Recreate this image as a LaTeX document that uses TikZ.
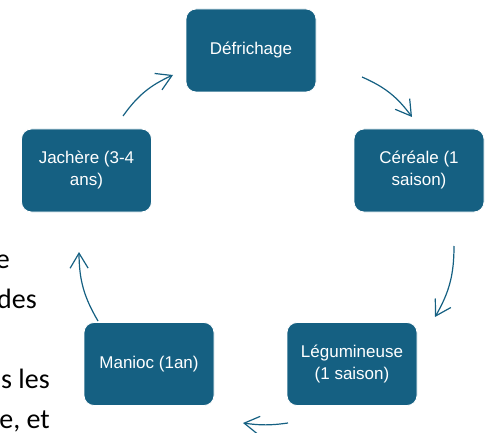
\documentclass[tikz,border=0pt]{standalone}
\usepackage{fontspec}
\setmainfont{Liberation Sans}
\newfontfamily\bodyfont{Carlito}
\usetikzlibrary{arrows.meta}
\definecolor{boxblue}{HTML}{156082}
\begin{document}
\begin{tikzpicture}[x=1pt,y=-1pt,
  box/.style={draw=white, line width=0.8pt, fill=boxblue, rounded corners=10pt,
    minimum width=130pt, minimum height=83pt, text=white,
    font=\fontsize{17}{22}\selectfont, align=center, inner sep=0pt},
  cyc/.style={draw=boxblue, line width=1.2pt,
    -{Straight Barb[length=15pt,width=18pt,line width=1.2pt]}},
  frag/.style={font=\bodyfont\fontsize{28}{34}\selectfont, anchor=base east,
    inner sep=0pt, text=black}]
\useasboundingbox (0,0) rectangle (490,433);
\clip (0,0) rectangle (490,433);

% background text fragments
\node[frag] (f1) at (10,268) {e};
\node[frag] (f2) at (37,308) {des};
\node[frag] (f3) at (50,388) {s les};
\node[frag] (f4) at (50,428) {e, et};

% boxes
\node[box] (def) at (251,50.5) {Défrichage};
\node[box] (cer) at (419,170.5) {Céréale (1\\saison)};
\node[box] (leg) at (352,364) {Légumineuse\\(1 saison)};
\node[box] (man) at (149,364) {Manioc (1an)};
\node[box] (jac) at (86.5,170.5) {Jachère (3-4\\ans)};

% arrow end points
\coordinate (a1s) at (123,116);
\coordinate (a1e) at (173,75);
\coordinate (a2s) at (362,77);
\coordinate (a2e) at (412,117);
\coordinate (a3s) at (454,246);
\coordinate (a3e) at (435,317);
\coordinate (a4s) at (288,423);
\coordinate (a4e) at (243,423);
\coordinate (a5s) at (98,321);
\coordinate (a5e) at (79,252);

\draw[cyc] (a1s) to[bend left=15] (a1e);
\draw[cyc] (a2s) to[bend left=15] (a2e);
\draw[cyc] (a3s) to[bend left=15] (a3e);
\draw[cyc] (a4s) to[bend left=8] (a4e);
\draw[cyc] (a5s) to[bend left=15] (a5e);
\end{tikzpicture}
\end{document}
